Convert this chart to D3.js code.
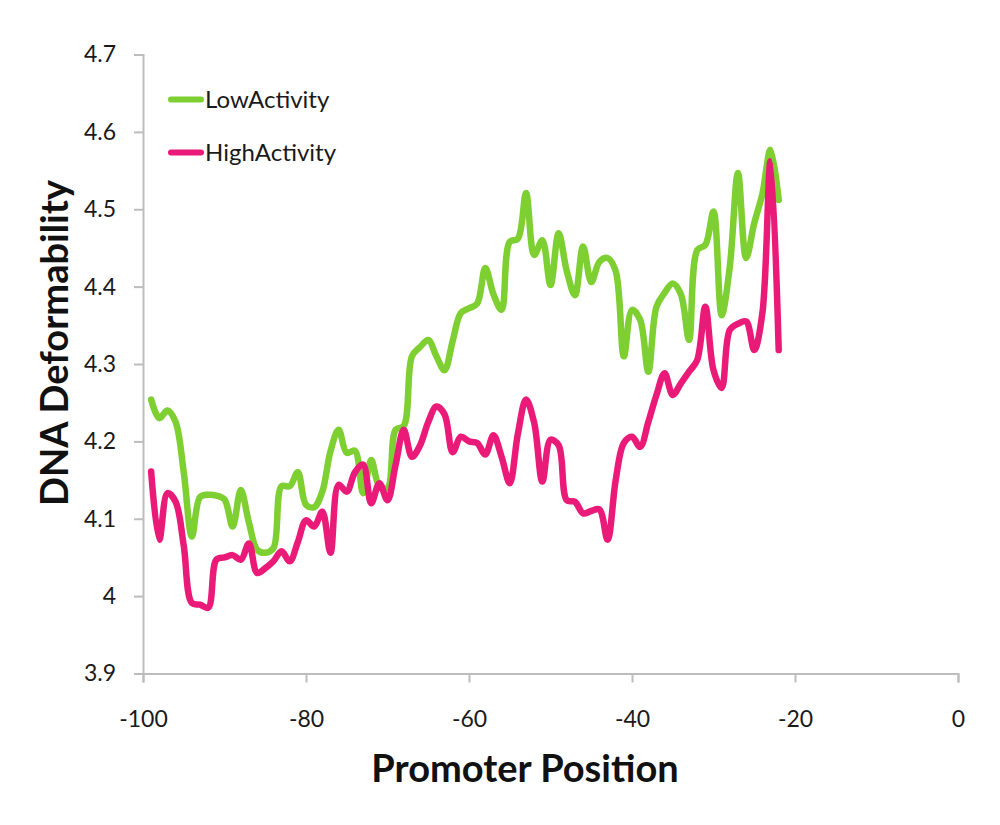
<!DOCTYPE html>
<html><head><meta charset="utf-8">
<script src="https://d3js.org/d3.v7.min.js"></script>
<style>body{margin:0;background:#fff;}svg{display:block;}</style>
</head><body>
<script>
const positions = d3.range(-99, -21);
const lowActivity = [4.254,4.230,4.240,4.225,4.160,4.077,4.128,4.131,4.130,4.125,4.090,4.137,4.095,4.060,4.056,4.062,4.142,4.142,4.160,4.118,4.115,4.135,4.187,4.215,4.185,4.188,4.133,4.176,4.142,4.140,4.215,4.220,4.310,4.322,4.331,4.310,4.292,4.330,4.366,4.372,4.378,4.424,4.390,4.370,4.458,4.462,4.521,4.441,4.460,4.402,4.469,4.420,4.389,4.452,4.406,4.432,4.437,4.420,4.310,4.370,4.357,4.290,4.374,4.392,4.404,4.390,4.331,4.447,4.454,4.497,4.363,4.426,4.547,4.437,4.482,4.520,4.577,4.512];
const highActivity = [4.161,4.073,4.133,4.122,4.065,3.991,3.989,3.985,4.047,4.050,4.053,4.047,4.068,4.030,4.036,4.045,4.058,4.045,4.070,4.098,4.090,4.109,4.056,4.144,4.135,4.160,4.170,4.120,4.146,4.124,4.170,4.215,4.180,4.195,4.225,4.245,4.235,4.186,4.206,4.200,4.198,4.183,4.208,4.180,4.146,4.210,4.254,4.224,4.148,4.202,4.195,4.124,4.122,4.107,4.110,4.112,4.073,4.150,4.198,4.206,4.193,4.225,4.260,4.288,4.260,4.275,4.290,4.305,4.374,4.292,4.269,4.344,4.352,4.355,4.318,4.366,4.562,4.318];
const xTicks = [-100,-80,-60,-40,-20,0];
const yTicks = [3.9,4.0,4.1,4.2,4.3,4.4,4.5,4.6,4.7];
const seriesNames = ["LowActivity","HighActivity"];
const seriesColors = ["#7dcf32","#ea1a78"];

const W = 1000, H = 825;
const svg = d3.select("body").append("svg").attr("width", W).attr("height", H);
const x = d3.scaleLinear().domain([-100, 0]).range([143, 958]);
const y = d3.scaleLinear().domain([3.9, 4.7]).range([673.5, 54.5]);
const font = "Lato, 'Open Sans', sans-serif";
const axisColor = "#bdbdbd";

const yAxis = svg.append("g").attr("transform", "translate(143,0)")
  .call(d3.axisLeft(y).tickValues(yTicks).tickSize(9).tickPadding(18)
    .tickFormat(d => String(+d.toFixed(1))));
const xAxis = svg.append("g").attr("transform", "translate(0,673.5)")
  .call(d3.axisBottom(x).tickValues(xTicks).tickSize(9).tickPadding(28).tickFormat(d => String(d)));
[yAxis, xAxis].forEach(g => {
  g.select(".domain").attr("stroke", axisColor).attr("stroke-width", 2);
  g.selectAll(".tick line").attr("stroke", axisColor).attr("stroke-width", 2);
  g.selectAll(".tick text").attr("fill", "#1a1a1a").style("font-family", font).style("font-size", "23px");
});

const line = d3.line().x((d, i) => x(positions[i])).y(d => y(d)).curve(d3.curveCatmullRom.alpha(0.5));
[lowActivity, highActivity].forEach((s, k) => {
  svg.append("path").datum(s).attr("d", line).attr("fill", "none")
    .attr("stroke", seriesColors[k]).attr("stroke-width", 6.5)
    .attr("stroke-linejoin", "round").attr("stroke-linecap", "round");
});

seriesNames.forEach((n, k) => {
  const ly = 99.5 + k * 53;
  svg.append("line").attr("x1", 171).attr("x2", 201).attr("y1", ly).attr("y2", ly)
    .attr("stroke", seriesColors[k]).attr("stroke-width", 6).attr("stroke-linecap", "round");
  svg.append("text").attr("x", 205).attr("y", ly + 8).text(n)
    .style("font-family", font).style("font-size", "24px").attr("fill", "#1a1a1a");
});

svg.append("text").attr("x", 525).attr("y", 782).attr("text-anchor", "middle")
  .text("Promoter Position").style("font-family", font).style("font-weight", "bold")
  .style("font-size", "38px").attr("fill", "#111");
svg.append("text").attr("transform", "translate(68,343) rotate(-90)").attr("text-anchor", "middle")
  .text("DNA Deformability").style("font-family", font).style("font-weight", "bold")
  .style("font-size", "38px").attr("fill", "#111");
</script>
</body></html>
